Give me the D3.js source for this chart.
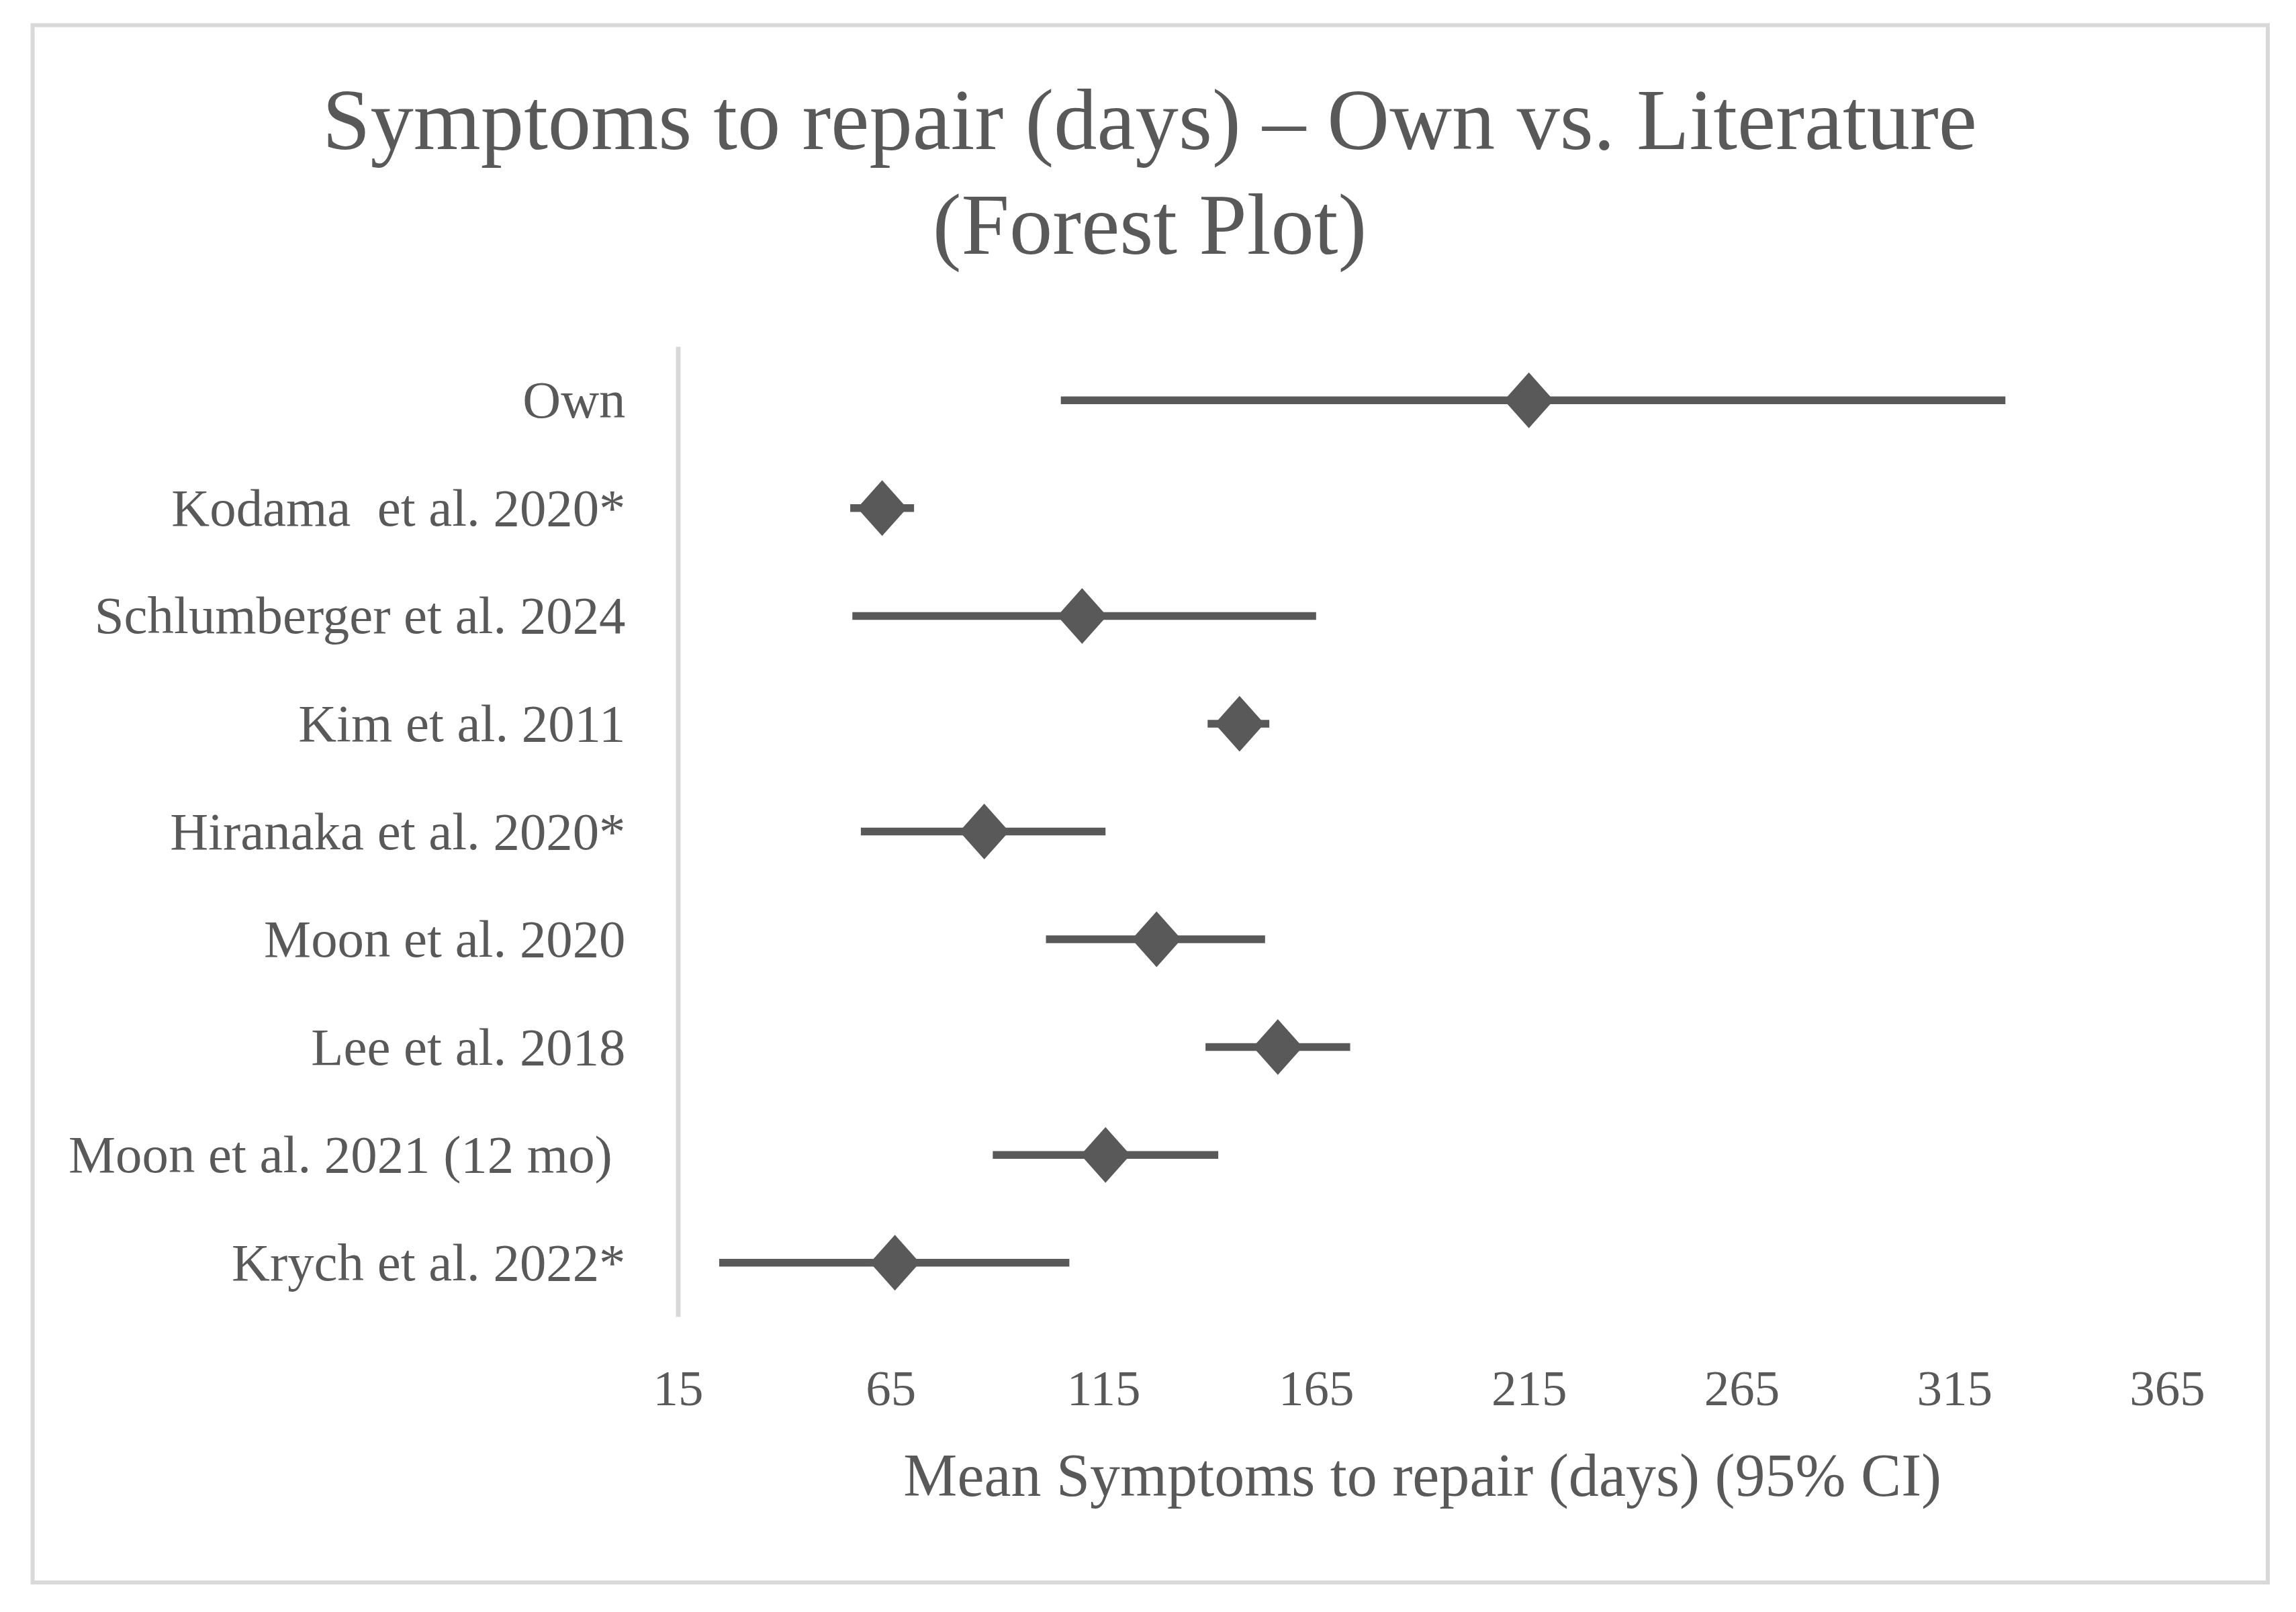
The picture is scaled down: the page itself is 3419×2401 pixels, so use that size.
<!DOCTYPE html>
<html>
<head>
<meta charset="utf-8">
<script src="https://cdn.jsdelivr.net/npm/d3@7/dist/d3.min.js"></script>
<style>
  html, body { margin: 0; padding: 0; background: #ffffff; }
  svg { display: block; }
  text { white-space: pre; }
</style>
</head>
<body>
<script>
// ---------------- DATA ----------------
const categories = [
  "Own",
  "Kodama  et al. 2020*",
  "Schlumberger et al. 2024",
  "Kim et al. 2011",
  "Hiranaka et al. 2020*",
  "Moon et al. 2020",
  "Lee et al. 2018",
  "Moon et al. 2021 (12 mo) ",
  "Krych et al. 2022*"
];
const meanValues  = [215, 63, 110, 147, 87, 127.5, 156, 115.5, 66];
const lowerValues = [105, 55.5, 56, 139.5, 58, 101.5, 139, 89, 24.7];
const upperValues = [327, 70.5, 165, 154, 115.5, 153, 173, 142, 107];
const xTicks = [15, 65, 115, 165, 215, 265, 315, 365];
const titleLines = ["Symptoms to repair (days) \u2013 Own vs. Literature", "(Forest Plot)"];
const xAxisTitle = "Mean Symptoms to repair (days) (95% CI)";

// ---------------- LAYOUT ----------------
const W = 3419, H = 2401;
const FONT = "'Palatino Linotype', 'Book Antiqua', Palatino, 'Liberation Serif', 'Times New Roman', serif";
const TEXT_COLOR = "#595959";
const MARK_COLOR = "#595959";
const GRID_COLOR = "#d9d9d9";

const svg = d3.select("body").append("svg")
  .attr("width", W).attr("height", H)
  .attr("xmlns", "http://www.w3.org/2000/svg");

svg.append("rect").attr("x", 0).attr("y", 0).attr("width", W).attr("height", H).attr("fill", "#fff");

// outer border
svg.append("rect")
  .attr("x", 48.5).attr("y", 37.5)
  .attr("width", 3377 - 48.5).attr("height", 2357 - 37.5)
  .attr("fill", "none").attr("stroke", GRID_COLOR).attr("stroke-width", 6);

function fitSize(str, target) {
  const t = svg.append("text").attr("font-family", FONT).attr("font-size", 100).text(str);
  const len = t.node().getComputedTextLength();
  t.remove();
  return 100 * target / len;
}

const x = d3.scaleLinear().domain([15, 365]).range([1009.5, 3227]);
const y = d3.scaleBand().domain(categories).range([516, 1961]);

const rows = categories.map((c, i) => ({ cat: c, mean: meanValues[i], lo: lowerValues[i], hi: upperValues[i] }));

// title
const titleSize = fitSize(titleLines[0], 2464);
const titleG = svg.append("g");
[222, 378].forEach((by, i) => {
  titleG.append("text")
    .attr("x", 1712).attr("y", by)
    .attr("text-anchor", "middle")
    .attr("font-family", FONT).attr("font-size", titleSize)
    .attr("fill", TEXT_COLOR)
    .text(titleLines[i]);
});

// y axis (category axis) with gray domain line
const labelSize = fitSize("Schlumberger et al. 2024", 807) * 0.98;
const yAxisG = svg.append("g")
  .attr("transform", `translate(${x(15)},0)`)
  .call(d3.axisLeft(y).tickSize(0).tickSizeOuter(0).tickPadding(78));
yAxisG.select(".domain").attr("stroke", GRID_COLOR).attr("stroke-width", 7);
yAxisG.selectAll(".tick text")
  .attr("font-family", FONT).attr("font-size", labelSize)
  .attr("fill", TEXT_COLOR)
  .attr("dy", null)
  .attr("y", labelSize * 0.33);

// x axis ticks (labels only)
const tickSize = 75;
const xAxisG = svg.append("g")
  .attr("transform", `translate(0,${y.range()[1]})`)
  .call(d3.axisBottom(x).tickValues(xTicks).tickSize(0).tickFormat(d3.format("d")));
xAxisG.select(".domain").remove();
xAxisG.selectAll(".tick text")
  .attr("font-family", FONT).attr("font-size", tickSize)
  .attr("fill", TEXT_COLOR)
  .attr("dy", null)
  .attr("y", 2093 - y.range()[1]);

// x axis title
const axTitleSize = fitSize(xAxisTitle, 1546);
svg.append("text")
  .attr("x", (x(15) + x(365)) / 2).attr("y", 2228)
  .attr("text-anchor", "middle")
  .attr("font-family", FONT).attr("font-size", axTitleSize)
  .attr("fill", TEXT_COLOR)
  .text(xAxisTitle);

// error bars
const cy = d => y(d.cat) + y.bandwidth() / 2;
svg.append("g").selectAll("line").data(rows).join("line")
  .attr("x1", d => x(d.lo)).attr("x2", d => x(d.hi))
  .attr("y1", cy).attr("y2", cy)
  .attr("stroke", MARK_COLOR).attr("stroke-width", 11.5);

// diamonds
const hw = 37, hh = 41.5;
svg.append("g").selectAll("path").data(rows).join("path")
  .attr("d", d => {
    const cx = x(d.mean), yy = cy(d);
    return `M${cx},${yy - hh}L${cx + hw},${yy}L${cx},${yy + hh}L${cx - hw},${yy}Z`;
  })
  .attr("fill", MARK_COLOR);
</script>
</body>
</html>
